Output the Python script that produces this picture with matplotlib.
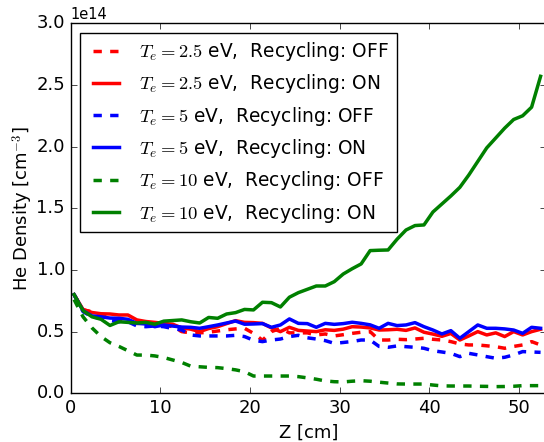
import numpy as np
import matplotlib
matplotlib.use('Agg')
import matplotlib.pyplot as plt

plt.style.use('classic')
plt.rcParams['font.size'] = 13

# axial position [cm]
z_cm = np.arange(53) + 0.4

# He density in units of 1e14 cm^-3
red_off = [0.80, 0.676, 0.662, 0.635, 0.61, 0.60, 0.585, 0.567, 0.567, 0.56,
           0.554, 0.54, 0.50, 0.49, 0.49, 0.495, 0.505, 0.515, 0.522, 0.527,
           0.486, 0.43, 0.50, 0.527, 0.49, 0.49, 0.49, 0.473, 0.481, 0.465,
           0.475, 0.486, 0.495, 0.50, 0.432, 0.432, 0.438, 0.435, 0.44, 0.446,
           0.438, 0.432, 0.419, 0.40, 0.392, 0.392, 0.385, 0.378, 0.365, 0.38,
           0.392, 0.419, 0.392]
red_on = [0.80, 0.68, 0.655, 0.645, 0.643, 0.635, 0.635, 0.595, 0.582, 0.575,
          0.567, 0.56, 0.53, 0.52, 0.50, 0.525, 0.54, 0.565, 0.589, 0.575,
          0.573, 0.567, 0.53, 0.50, 0.535, 0.51, 0.505, 0.50, 0.515, 0.51,
          0.52, 0.54, 0.537, 0.53, 0.513, 0.515, 0.519, 0.51, 0.53, 0.495,
          0.48, 0.462, 0.485, 0.432, 0.465, 0.50, 0.473, 0.49, 0.46, 0.50,
          0.473, 0.50, 0.519]
blue_off = [0.80, 0.662, 0.62, 0.608, 0.59, 0.58, 0.58, 0.546, 0.54, 0.546,
            0.54, 0.525, 0.513, 0.473, 0.465, 0.465, 0.465, 0.465, 0.47, 0.46,
            0.43, 0.419, 0.432, 0.44, 0.46, 0.47, 0.45, 0.44, 0.427, 0.405,
            0.412, 0.42, 0.432, 0.432, 0.38, 0.373, 0.384, 0.378, 0.373, 0.365,
            0.345, 0.335, 0.324, 0.297, 0.324, 0.311, 0.297, 0.284, 0.292, 0.311,
            0.338, 0.335, 0.332]
blue_on = [0.80, 0.67, 0.627, 0.62, 0.61, 0.608, 0.60, 0.567, 0.562, 0.54,
           0.554, 0.545, 0.537, 0.535, 0.527, 0.54, 0.554, 0.57, 0.586, 0.56,
           0.562, 0.565, 0.535, 0.554, 0.603, 0.567, 0.565, 0.535, 0.567, 0.559,
           0.565, 0.576, 0.567, 0.555, 0.527, 0.567, 0.549, 0.554, 0.573, 0.54,
           0.513, 0.481, 0.508, 0.446, 0.50, 0.554, 0.527, 0.527, 0.522, 0.513,
           0.486, 0.535, 0.527]
green_off = [0.76, 0.62, 0.53, 0.46, 0.41, 0.38, 0.345, 0.31, 0.31, 0.303,
             0.29, 0.27, 0.25, 0.22, 0.215, 0.21, 0.208, 0.20, 0.19, 0.175,
             0.14, 0.14, 0.14, 0.14, 0.14, 0.135, 0.125, 0.114, 0.10, 0.094,
             0.092, 0.098, 0.102, 0.098, 0.09, 0.083, 0.076, 0.075, 0.075, 0.075,
             0.067, 0.06, 0.059, 0.059, 0.059, 0.057, 0.056, 0.054, 0.055, 0.057,
             0.062, 0.062, 0.062]
green_on = [0.80, 0.67, 0.62, 0.60, 0.55, 0.58, 0.575, 0.57, 0.575, 0.56,
            0.585, 0.59, 0.595, 0.58, 0.57, 0.615, 0.608, 0.643, 0.654, 0.68,
            0.676, 0.738, 0.735, 0.70, 0.779, 0.816, 0.843, 0.87, 0.87, 0.905,
            0.967, 1.01, 1.049, 1.157, 1.16, 1.162, 1.249, 1.324, 1.36, 1.365,
            1.47, 1.535, 1.60, 1.67, 1.77, 1.88, 1.99, 2.07, 2.15, 2.22,
            2.25, 2.32, 2.57]

series = [
    (red_off, 'r', '--', '2.5', 'OFF'),
    (red_on, 'r', '-', '2.5', 'ON'),
    (blue_off, 'b', '--', '5', 'OFF'),
    (blue_on, 'b', '-', '5', 'ON'),
    (green_off, 'g', '--', '10', 'OFF'),
    (green_on, 'g', '-', '10', 'ON'),
]

fig = plt.figure(figsize=(5.44, 4.42), dpi=100)
ax = fig.add_axes([0.1296, 0.1102, 0.874, 0.8371])

for vals, c, ls, te, rec in series:
    ax.plot(z_cm, np.array(vals) * 1e14, color=c, linestyle=ls, linewidth=2.5,
            label=r'$T_e=%s$ eV,  Recycling: %s' % (te, rec))

ax.set_xlim(0, 53)
ax.set_ylim(0, 3.0e14)
ax.set_xticks([0, 10, 20, 30, 40, 50])
ax.set_yticks(np.arange(0, 3.01e14, 0.5e14))
ax.set_xlabel('Z [cm]')
ax.set_ylabel(r'He Density [cm$^{-3}$]', labelpad=1)
ax.yaxis.get_offset_text().set_fontsize(10.5)

ax.legend(loc='upper left', fontsize=13.4, handlelength=2.0, labelspacing=0.5)

fig.savefig('out.png', dpi=100, facecolor='white')
